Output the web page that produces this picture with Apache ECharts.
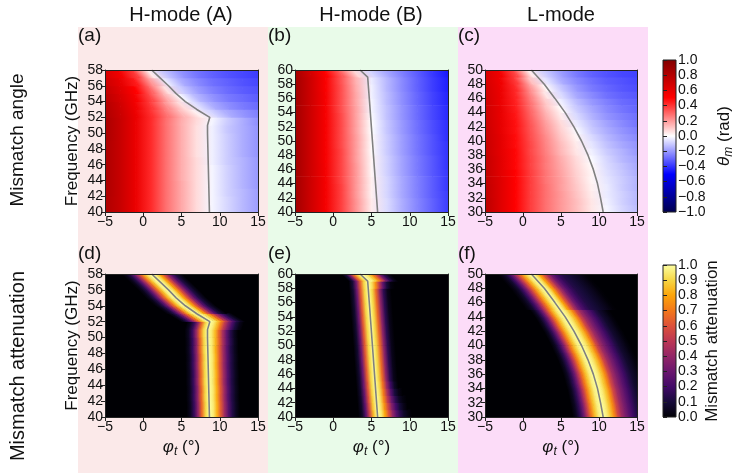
<!DOCTYPE html>
<html>
<head>
<meta charset="utf-8">
<script src="https://cdn.jsdelivr.net/npm/echarts@6.0.0/dist/echarts.min.js"></script>
<style>
  html, body { margin: 0; padding: 0; background: #fff; }
  #chart { width: 743px; height: 473px; }
</style>
</head>
<body>
<div id="chart"></div>
<script>
// 1.数据 -------------------------------------------------------------
// θm 每行的横向采样点 (°)
var phiSamples = [-5, -3, -1, 1, 3, 5, 7, 9, 11, 13, 15];
// 衰减每行: 第一个数是起点 (°), 后面按 0.5° 间隔取值
var attenStep = 0.5;

// 各行中心频率 (GHz)
var freqA = [40.5, 41.5, 42.5, 43.5, 44.5, 45.5, 46.5, 47.5, 48.5, 49.5, 50.5, 51.5, 52.5, 53.5, 54.5, 55.5, 56.5, 57.5];
var freqB = [40.5, 41.5, 42.5, 43.5, 44.5, 45.5, 46.5, 47.5, 48.5, 49.5, 50.5, 51.5, 52.5, 53.5, 54.5, 55.5, 56.5, 57.5, 58.5, 59.5];
var freqC = [30.5, 31.5, 32.5, 33.5, 34.5, 35.5, 36.5, 37.5, 38.5, 39.5, 40.5, 41.5, 42.5, 43.5, 44.5, 45.5, 46.5, 47.5, 48.5, 49.5];

// (a) H-mode (A) 失配角 θm (rad)
var thetaA = [
  [0.82, 0.72, 0.58, 0.42, 0.28, 0.17, 0.07, -0.02, -0.08, -0.14, -0.19],
  [0.82, 0.72, 0.58, 0.42, 0.28, 0.17, 0.07, -0.02, -0.08, -0.14, -0.19],
  [0.83, 0.72, 0.58, 0.42, 0.28, 0.17, 0.07, -0.02, -0.09, -0.14, -0.19],
  [0.83, 0.72, 0.58, 0.42, 0.28, 0.17, 0.07, -0.02, -0.09, -0.15, -0.2],
  [0.83, 0.72, 0.58, 0.42, 0.28, 0.16, 0.07, -0.02, -0.09, -0.15, -0.2],
  [0.83, 0.72, 0.58, 0.42, 0.28, 0.16, 0.07, -0.02, -0.09, -0.15, -0.2],
  [0.83, 0.72, 0.58, 0.42, 0.28, 0.16, 0.07, -0.03, -0.1, -0.15, -0.2],
  [0.83, 0.72, 0.58, 0.42, 0.28, 0.16, 0.06, -0.03, -0.1, -0.16, -0.21],
  [0.83, 0.72, 0.58, 0.42, 0.28, 0.16, 0.06, -0.03, -0.1, -0.16, -0.21],
  [0.84, 0.72, 0.58, 0.42, 0.28, 0.16, 0.06, -0.03, -0.1, -0.16, -0.21],
  [0.84, 0.72, 0.58, 0.42, 0.28, 0.16, 0.06, -0.03, -0.11, -0.16, -0.21],
  [0.84, 0.72, 0.58, 0.42, 0.28, 0.16, 0.07, -0.02, -0.1, -0.16, -0.22],
  [0.82, 0.71, 0.57, 0.41, 0.27, 0.14, 0.03, -0.08, -0.16, -0.21, -0.25],
  [0.8, 0.69, 0.55, 0.39, 0.22, 0.07, -0.06, -0.16, -0.22, -0.26, -0.29],
  [0.77, 0.66, 0.53, 0.36, 0.16, -0.01, -0.14, -0.21, -0.26, -0.29, -0.32],
  [0.74, 0.63, 0.5, 0.3, 0.06, -0.1, -0.19, -0.25, -0.29, -0.32, -0.34],
  [0.7, 0.6, 0.45, 0.2, -0.04, -0.16, -0.23, -0.28, -0.31, -0.34, -0.36],
  [0.66, 0.55, 0.38, 0.04, -0.12, -0.21, -0.27, -0.31, -0.34, -0.36, -0.38]
];

// (b) H-mode (B) 失配角 θm (rad)
var thetaB = [
  [0.87, 0.7, 0.54, 0.38, 0.21, 0.04, -0.07, -0.16, -0.24, -0.31, -0.38],
  [0.87, 0.7, 0.54, 0.38, 0.21, 0.04, -0.07, -0.16, -0.24, -0.31, -0.38],
  [0.87, 0.7, 0.54, 0.38, 0.2, 0.03, -0.08, -0.17, -0.25, -0.32, -0.38],
  [0.87, 0.7, 0.54, 0.38, 0.2, 0.03, -0.08, -0.17, -0.25, -0.32, -0.39],
  [0.87, 0.7, 0.54, 0.37, 0.2, 0.03, -0.08, -0.17, -0.25, -0.32, -0.39],
  [0.87, 0.7, 0.54, 0.37, 0.2, 0.02, -0.09, -0.18, -0.26, -0.33, -0.39],
  [0.87, 0.7, 0.54, 0.37, 0.2, 0.02, -0.09, -0.18, -0.26, -0.33, -0.4],
  [0.87, 0.7, 0.53, 0.37, 0.19, 0.02, -0.09, -0.18, -0.26, -0.33, -0.4],
  [0.87, 0.7, 0.53, 0.37, 0.19, 0.01, -0.1, -0.19, -0.27, -0.34, -0.4],
  [0.87, 0.7, 0.53, 0.36, 0.19, 0.01, -0.1, -0.19, -0.27, -0.34, -0.4],
  [0.87, 0.7, 0.53, 0.36, 0.19, 0.01, -0.1, -0.19, -0.27, -0.34, -0.41],
  [0.87, 0.7, 0.53, 0.36, 0.18, 0.0, -0.11, -0.2, -0.28, -0.35, -0.41],
  [0.87, 0.7, 0.53, 0.36, 0.18, 0.0, -0.11, -0.2, -0.28, -0.35, -0.41],
  [0.87, 0.7, 0.53, 0.36, 0.18, -0.01, -0.12, -0.21, -0.29, -0.36, -0.42],
  [0.87, 0.7, 0.53, 0.35, 0.18, -0.02, -0.12, -0.21, -0.29, -0.36, -0.42],
  [0.87, 0.7, 0.53, 0.35, 0.17, -0.02, -0.13, -0.22, -0.3, -0.37, -0.43],
  [0.87, 0.7, 0.53, 0.35, 0.17, -0.03, -0.13, -0.22, -0.3, -0.37, -0.43],
  [0.87, 0.7, 0.52, 0.35, 0.16, -0.03, -0.14, -0.23, -0.31, -0.38, -0.44],
  [0.87, 0.7, 0.52, 0.34, 0.15, -0.04, -0.14, -0.23, -0.31, -0.38, -0.44],
  [0.85, 0.68, 0.5, 0.32, 0.08, -0.08, -0.17, -0.25, -0.32, -0.39, -0.45]
];

// (c) L-mode 失配角 θm (rad)
var thetaC = [
  [0.77, 0.63, 0.5, 0.38, 0.28, 0.2, 0.13, 0.05, -0.02, -0.08, -0.13],
  [0.77, 0.63, 0.5, 0.38, 0.28, 0.2, 0.13, 0.05, -0.03, -0.09, -0.14],
  [0.76, 0.63, 0.5, 0.38, 0.28, 0.2, 0.12, 0.04, -0.04, -0.09, -0.14],
  [0.76, 0.63, 0.5, 0.38, 0.28, 0.19, 0.11, 0.03, -0.04, -0.1, -0.15],
  [0.75, 0.63, 0.5, 0.38, 0.27, 0.19, 0.1, 0.02, -0.05, -0.1, -0.15],
  [0.75, 0.62, 0.5, 0.38, 0.27, 0.18, 0.09, 0.02, -0.06, -0.11, -0.16],
  [0.74, 0.62, 0.49, 0.37, 0.26, 0.17, 0.08, 0.01, -0.07, -0.12, -0.17],
  [0.74, 0.62, 0.49, 0.37, 0.26, 0.16, 0.07, -0.01, -0.08, -0.14, -0.18],
  [0.73, 0.61, 0.49, 0.36, 0.25, 0.14, 0.05, -0.03, -0.1, -0.15, -0.2],
  [0.73, 0.61, 0.48, 0.36, 0.24, 0.13, 0.04, -0.05, -0.12, -0.17, -0.21],
  [0.72, 0.61, 0.48, 0.35, 0.23, 0.11, 0.02, -0.07, -0.14, -0.19, -0.23],
  [0.72, 0.6, 0.47, 0.34, 0.21, 0.09, -0.01, -0.1, -0.16, -0.21, -0.25],
  [0.71, 0.6, 0.47, 0.33, 0.19, 0.07, -0.04, -0.12, -0.18, -0.23, -0.27],
  [0.71, 0.59, 0.46, 0.31, 0.16, 0.04, -0.07, -0.15, -0.21, -0.25, -0.28],
  [0.7, 0.59, 0.45, 0.29, 0.13, 0.01, -0.1, -0.17, -0.23, -0.27, -0.3],
  [0.7, 0.58, 0.44, 0.27, 0.1, -0.03, -0.13, -0.2, -0.25, -0.29, -0.31],
  [0.69, 0.58, 0.43, 0.24, 0.05, -0.07, -0.17, -0.23, -0.28, -0.31, -0.33],
  [0.68, 0.57, 0.42, 0.2, 0.01, -0.11, -0.2, -0.26, -0.3, -0.33, -0.35],
  [0.67, 0.56, 0.39, 0.12, -0.05, -0.16, -0.23, -0.28, -0.32, -0.34, -0.36],
  [0.66, 0.55, 0.36, 0.04, -0.1, -0.19, -0.26, -0.31, -0.34, -0.36, -0.37]
];

// (d) H-mode (A) 失配衰减
var attenA = [
  [5.65, 0, 0.05, 0.17, 0.38, 0.66, 0.9, 1.0, 0.95, 0.82, 0.62, 0.42, 0.25, 0.13, 0.05, 0],
  [5.65, 0, 0.05, 0.17, 0.38, 0.66, 0.9, 1.0, 0.95, 0.82, 0.62, 0.42, 0.25, 0.13, 0.05, 0],
  [5.6, 0, 0.05, 0.17, 0.38, 0.66, 0.9, 1.0, 0.95, 0.82, 0.62, 0.42, 0.25, 0.13, 0.05, 0],
  [5.6, 0, 0.05, 0.17, 0.38, 0.66, 0.9, 1.0, 0.95, 0.82, 0.62, 0.42, 0.25, 0.13, 0.05, 0],
  [5.55, 0, 0.05, 0.17, 0.38, 0.66, 0.9, 1.0, 0.95, 0.82, 0.62, 0.42, 0.25, 0.13, 0.05, 0],
  [5.55, 0, 0.05, 0.17, 0.38, 0.66, 0.9, 1.0, 0.95, 0.82, 0.62, 0.42, 0.25, 0.13, 0.05, 0],
  [5.5, 0, 0.05, 0.17, 0.38, 0.66, 0.9, 1.0, 0.95, 0.82, 0.62, 0.42, 0.25, 0.13, 0.05, 0],
  [5.5, 0, 0.05, 0.17, 0.38, 0.66, 0.9, 1.0, 0.95, 0.82, 0.62, 0.42, 0.25, 0.13, 0.05, 0],
  [5.45, 0, 0.05, 0.17, 0.38, 0.66, 0.9, 1.0, 0.95, 0.82, 0.63, 0.43, 0.26, 0.13, 0.05, 0],
  [5.45, 0, 0.05, 0.17, 0.38, 0.66, 0.9, 1.0, 0.95, 0.83, 0.64, 0.44, 0.27, 0.14, 0.05, 0],
  [5.4, 0, 0.05, 0.17, 0.39, 0.67, 0.9, 1.0, 0.95, 0.84, 0.65, 0.45, 0.28, 0.14, 0.05, 0],
  [5.55, 0, 0.05, 0.16, 0.37, 0.65, 0.9, 1.0, 0.96, 0.86, 0.7, 0.52, 0.36, 0.22, 0.11, 0.04, 0],
  [4.0, 0, 0.05, 0.15, 0.3, 0.5, 0.7, 0.88, 0.98, 1.0, 0.95, 0.85, 0.7, 0.52, 0.36, 0.22, 0.12, 0.05, 0],
  [2.25, 0, 0.04, 0.12, 0.26, 0.45, 0.66, 0.85, 0.97, 1.0, 0.94, 0.8, 0.6, 0.4, 0.24, 0.12, 0.05, 0],
  [0.9, 0, 0.04, 0.12, 0.26, 0.45, 0.66, 0.85, 0.97, 1.0, 0.94, 0.8, 0.6, 0.4, 0.24, 0.12, 0.05, 0],
  [-0.2, 0, 0.04, 0.12, 0.26, 0.45, 0.66, 0.85, 0.97, 1.0, 0.94, 0.8, 0.6, 0.4, 0.24, 0.12, 0.05, 0],
  [-1.25, 0, 0.04, 0.12, 0.26, 0.45, 0.66, 0.85, 0.97, 1.0, 0.94, 0.8, 0.6, 0.4, 0.24, 0.12, 0.05, 0],
  [-2.35, 0, 0.04, 0.12, 0.26, 0.45, 0.66, 0.85, 0.97, 1.0, 0.94, 0.8, 0.6, 0.4, 0.24, 0.12, 0.05, 0]
];

// (e) H-mode (B) 失配衰减
var attenB = [
  [3.26, 0, 0.06, 0.25, 0.55, 0.85, 1.0, 0.95, 0.8, 0.6, 0.4, 0.25, 0.14, 0.07, 0.03, 0],
  [3.19, 0, 0.07, 0.27, 0.57, 0.87, 1.0, 0.94, 0.76, 0.55, 0.35, 0.2, 0.1, 0.04, 0],
  [3.12, 0, 0.07, 0.28, 0.59, 0.88, 1.0, 0.93, 0.73, 0.5, 0.3, 0.15, 0.06, 0.02, 0],
  [3.06, 0, 0.08, 0.29, 0.6, 0.89, 1.0, 0.92, 0.7, 0.45, 0.24, 0.1, 0.03, 0],
  [2.99, 0, 0.08, 0.3, 0.61, 0.9, 1.0, 0.91, 0.68, 0.41, 0.19, 0.06, 0],
  [2.92, 0, 0.08, 0.3, 0.62, 0.9, 1.0, 0.9, 0.66, 0.38, 0.15, 0.04, 0],
  [2.85, 0, 0.08, 0.3, 0.62, 0.9, 1.0, 0.9, 0.66, 0.38, 0.15, 0.04, 0],
  [2.78, 0, 0.08, 0.3, 0.62, 0.9, 1.0, 0.9, 0.66, 0.38, 0.15, 0.04, 0],
  [2.71, 0, 0.08, 0.3, 0.62, 0.9, 1.0, 0.9, 0.66, 0.38, 0.15, 0.04, 0],
  [2.65, 0, 0.08, 0.3, 0.62, 0.9, 1.0, 0.9, 0.66, 0.38, 0.15, 0.04, 0],
  [2.58, 0, 0.08, 0.3, 0.62, 0.9, 1.0, 0.9, 0.66, 0.38, 0.15, 0.04, 0],
  [2.51, 0, 0.08, 0.3, 0.62, 0.9, 1.0, 0.9, 0.66, 0.38, 0.15, 0.04, 0],
  [2.44, 0, 0.08, 0.3, 0.62, 0.9, 1.0, 0.9, 0.66, 0.38, 0.15, 0.04, 0],
  [2.37, 0, 0.08, 0.3, 0.62, 0.9, 1.0, 0.9, 0.66, 0.38, 0.15, 0.04, 0],
  [2.3, 0, 0.08, 0.3, 0.62, 0.9, 1.0, 0.9, 0.66, 0.38, 0.15, 0.04, 0],
  [2.24, 0, 0.08, 0.3, 0.62, 0.9, 1.0, 0.9, 0.66, 0.38, 0.15, 0.04, 0],
  [2.17, 0, 0.08, 0.3, 0.62, 0.9, 1.0, 0.9, 0.66, 0.38, 0.15, 0.04, 0],
  [2.1, 0, 0.08, 0.3, 0.62, 0.9, 1.0, 0.9, 0.66, 0.38, 0.15, 0.04, 0],
  [2.03, 0, 0.09, 0.32, 0.63, 0.9, 1.0, 0.93, 0.75, 0.5, 0.26, 0.1, 0.02, 0],
  [1.5, 0, 0.1, 0.35, 0.65, 0.88, 1.0, 0.98, 0.9, 0.75, 0.55, 0.32, 0.15, 0.05, 0]
];

// (f) L-mode 失配衰减
var attenC = [
  [6.45, 0, 0.05, 0.15, 0.3, 0.5, 0.7, 0.86, 0.96, 1.0, 0.96, 0.87, 0.74, 0.56, 0.43, 0.34, 0.26, 0.19, 0.13, 0.08, 0.05, 0.02, 0],
  [6.3, 0, 0.05, 0.15, 0.3, 0.5, 0.7, 0.86, 0.96, 1.0, 0.96, 0.87, 0.74, 0.56, 0.43, 0.34, 0.26, 0.19, 0.13, 0.08, 0.05, 0.02, 0],
  [6.1, 0, 0.05, 0.15, 0.3, 0.5, 0.7, 0.86, 0.96, 1.0, 0.96, 0.87, 0.74, 0.56, 0.43, 0.34, 0.26, 0.19, 0.13, 0.08, 0.05, 0.02, 0],
  [5.9, 0, 0.05, 0.15, 0.3, 0.5, 0.7, 0.86, 0.96, 1.0, 0.96, 0.87, 0.74, 0.56, 0.43, 0.34, 0.26, 0.19, 0.13, 0.08, 0.05, 0.02, 0],
  [5.65, 0, 0.05, 0.15, 0.3, 0.5, 0.7, 0.86, 0.96, 1.0, 0.96, 0.87, 0.74, 0.56, 0.43, 0.34, 0.26, 0.19, 0.13, 0.08, 0.05, 0.02, 0],
  [5.4, 0, 0.05, 0.15, 0.3, 0.5, 0.7, 0.86, 0.96, 1.0, 0.96, 0.87, 0.74, 0.56, 0.43, 0.34, 0.26, 0.19, 0.13, 0.08, 0.05, 0.02, 0],
  [5.1, 0, 0.05, 0.15, 0.3, 0.5, 0.7, 0.86, 0.96, 1.0, 0.96, 0.87, 0.74, 0.56, 0.43, 0.34, 0.26, 0.19, 0.13, 0.08, 0.05, 0.02, 0],
  [4.75, 0, 0.05, 0.15, 0.3, 0.5, 0.7, 0.86, 0.96, 1.0, 0.96, 0.87, 0.74, 0.56, 0.43, 0.34, 0.26, 0.19, 0.13, 0.08, 0.05, 0.02, 0],
  [4.35, 0, 0.05, 0.15, 0.3, 0.5, 0.7, 0.86, 0.96, 1.0, 0.96, 0.87, 0.74, 0.56, 0.43, 0.34, 0.26, 0.19, 0.13, 0.08, 0.05, 0.02, 0],
  [3.9, 0, 0.05, 0.15, 0.3, 0.5, 0.7, 0.86, 0.96, 1.0, 0.96, 0.87, 0.74, 0.56, 0.43, 0.34, 0.26, 0.19, 0.13, 0.08, 0.05, 0.02, 0],
  [3.45, 0, 0.05, 0.15, 0.3, 0.5, 0.7, 0.86, 0.96, 1.0, 0.96, 0.87, 0.74, 0.56, 0.43, 0.34, 0.26, 0.19, 0.13, 0.08, 0.05, 0.02, 0],
  [2.95, 0, 0.05, 0.15, 0.3, 0.5, 0.7, 0.86, 0.96, 1.0, 0.96, 0.87, 0.74, 0.56, 0.43, 0.34, 0.26, 0.19, 0.13, 0.08, 0.05, 0.02, 0],
  [2.4, 0, 0.05, 0.15, 0.3, 0.5, 0.7, 0.86, 0.96, 1.0, 0.96, 0.87, 0.74, 0.56, 0.43, 0.34, 0.26, 0.19, 0.13, 0.08, 0.05, 0.02, 0],
  [1.85, 0, 0.05, 0.15, 0.3, 0.5, 0.7, 0.86, 0.96, 1.0, 0.96, 0.87, 0.74, 0.56, 0.43, 0.34, 0.26, 0.19, 0.13, 0.08, 0.05, 0.02, 0],
  [1.2, 0, 0.05, 0.15, 0.3, 0.5, 0.7, 0.86, 0.96, 1.0, 0.96, 0.87, 0.74, 0.56, 0.43, 0.34, 0.26, 0.19, 0.13, 0.08, 0.05, 0.02, 0],
  [0.05, 0, 0.03, 0.08, 0.18, 0.32, 0.5, 0.68, 0.84, 0.95, 1.0, 0.94, 0.8, 0.62, 0.45, 0.32, 0.23, 0.17, 0.13, 0.11, 0.09, 0.07, 0.05, 0.03, 0.01, 0],
  [-0.65, 0, 0.03, 0.08, 0.18, 0.32, 0.5, 0.68, 0.84, 0.95, 1.0, 0.94, 0.8, 0.62, 0.45, 0.32, 0.23, 0.17, 0.13, 0.11, 0.09, 0.07, 0.05, 0.03, 0.01, 0],
  [-1.35, 0, 0.03, 0.08, 0.18, 0.32, 0.5, 0.68, 0.84, 0.95, 1.0, 0.94, 0.8, 0.62, 0.45, 0.32, 0.23, 0.17, 0.13, 0.11, 0.09, 0.07, 0.05, 0.03, 0.01, 0],
  [-2.15, 0, 0.03, 0.08, 0.18, 0.32, 0.5, 0.68, 0.84, 0.95, 1.0, 0.94, 0.8, 0.62, 0.45, 0.32, 0.23, 0.17, 0.13, 0.11, 0.09, 0.07, 0.05, 0.03, 0.01, 0],
  [-3.0, 0, 0.03, 0.08, 0.18, 0.32, 0.5, 0.68, 0.84, 0.95, 1.0, 0.94, 0.8, 0.62, 0.45, 0.32, 0.23, 0.17, 0.13, 0.11, 0.09, 0.07, 0.05, 0.03, 0.01, 0]
];

// θm = 0 的等值线 (灰线), 频率与角度
var ridgeFreqA = [40, 42, 44, 46, 48, 50, 51, 52, 53, 54, 55, 56, 57, 58];
var ridgePhiA = [8.65, 8.6, 8.55, 8.5, 8.45, 8.4, 8.4, 8.7, 7.0, 5.5, 4.3, 3.3, 2.2, 1.1];
var ridgeFreqB = [40, 45, 50, 55, 59, 60];
var ridgePhiB = [5.8, 5.46, 5.12, 4.78, 4.5, 3.5];
var ridgeFreqC = [30, 32, 34, 36, 38, 40, 42, 44, 46, 48, 50];
var ridgePhiC = [10.55, 10.2, 9.8, 9.25, 8.55, 7.7, 6.7, 5.55, 4.2, 2.8, 1.1];

// 2.色标 -------------------------------------------------------------
var FONT = 'Liberation Sans, Arial, sans-serif';
var seismicStops = [[-1, 0, 0, 77], [-0.5, 0, 0, 255], [0, 255, 255, 255], [0.5, 255, 0, 0], [1, 128, 0, 0]];
var infernoStops = [
  [0.0, 0, 0, 4], [0.1, 22, 11, 57], [0.2, 66, 10, 104], [0.3, 106, 23, 110], [0.4, 147, 38, 103],
  [0.5, 188, 55, 84], [0.6, 221, 81, 58], [0.7, 243, 120, 25], [0.8, 252, 165, 10], [0.9, 246, 215, 70], [1.0, 252, 255, 164]
];
function cmap(stops, v) {
  if (v <= stops[0][0]) v = stops[0][0];
  if (v >= stops[stops.length - 1][0]) v = stops[stops.length - 1][0];
  for (var i = 0; i < stops.length - 1; i++) {
    var a = stops[i], b = stops[i + 1];
    if (v <= b[0]) {
      var t = (v - a[0]) / (b[0] - a[0]);
      return 'rgb(' + Math.round(a[1] + (b[1] - a[1]) * t) + ',' + Math.round(a[2] + (b[2] - a[2]) * t) + ',' + Math.round(a[3] + (b[3] - a[3]) * t) + ')';
    }
  }
}
function barGradient(stops) {//色条, 上端为最大值
  var lo = stops[0][0], hi = stops[stops.length - 1][0];
  var cs = stops.map(function (s) {
    return { offset: (hi - s[0]) / (hi - lo), color: 'rgb(' + s[1] + ',' + s[2] + ',' + s[3] + ')' };
  }).reverse();
  return new echarts.graphic.LinearGradient(0, 0, 0, 1, cs);
}

// 3.把每行拆成小段 [x0, x1, 频率, 值0, 值1, 左沿倾斜, 右沿倾斜] -------
// 倾斜量取自等值线在该行上下沿的角度差, 让色带沿等值线走;
// 失配角面板里离等值线越远越接近竖直
function ridgeAt(rf, rp, f) {
  if (f <= rf[0]) return rp[0];
  for (var k = 0; k < rf.length - 1; k++) {
    if (f <= rf[k + 1]) return rp[k] + (rp[k + 1] - rp[k]) * (f - rf[k]) / (rf[k + 1] - rf[k]);
  }
  return rp[rp.length - 1];
}
function edgeSkew(rf, rp, f, x, fade) {
  var sk = ridgeAt(rf, rp, f + 0.5) - ridgeAt(rf, rp, f - 0.5);
  if (!fade) return sk;
  var d = (x - ridgeAt(rf, rp, f)) / 4;
  return sk / (1 + d * d);
}

function thetaCells(freqs, rows, rf, rp) {
  var out = [];
  for (var r = 0; r < rows.length; r++) {
    var f = freqs[r];
    for (var i = 0; i < phiSamples.length - 1; i++) {
      var xa = phiSamples[i], xb = phiSamples[i + 1];
      out.push([xa, xb, f, rows[r][i], rows[r][i + 1], edgeSkew(rf, rp, f, xa, true), edgeSkew(rf, rp, f, xb, true)]);
    }
  }
  return out;
}
function attenCells(freqs, rows, rf, rp) {
  var out = [];
  for (var r = 0; r < rows.length; r++) {
    var x0 = rows[r][0], f = freqs[r];
    var sk = edgeSkew(rf, rp, f, 0, false);
    for (var i = 1; i < rows[r].length - 1; i++) {
      out.push([x0 + (i - 1) * attenStep, x0 + i * attenStep, f, rows[r][i], rows[r][i + 1], sk, sk]);
    }
  }
  return out;
}
function cellRenderer(stops) {
  return function (params, api) {
    var xa = api.value(0), xb = api.value(1), f = api.value(2);
    var ka = api.value(5), kb = api.value(6);
    // 面板两端的段向外延伸, 由坐标系裁掉
    var ea = xa <= -5 ? 4 : 0, eb = xb >= 15 ? 4 : 0;
    var bl = api.coord([xa - ea - ka / 2, f - 0.5]), br = api.coord([xb + eb - kb / 2, f - 0.5]);
    var tr = api.coord([xb + eb + kb / 2, f + 0.5]), tl = api.coord([xa - ea + ka / 2, f + 0.5]);
    var c0 = api.coord([xa, f]), c1 = api.coord([xb, f]);
    var pa = api.coord([xa + ka / 2, f + 0.5]), pb = api.coord([xa - ka / 2, f - 0.5]);
    var qa = api.coord([xb + kb / 2, f + 0.5]), qb = api.coord([xb - kb / 2, f - 0.5]);
    var h = pb[1] - pa[1];
    var q = ((pa[0] - pb[0]) + (qa[0] - qb[0])) / 2 / h;
    var L = c1[0] - c0[0];
    var gx = L / (1 + q * q), gy = gx * q;
    var e = 0.35;
    return {
      type: 'polygon',
      shape: { points: [[bl[0] - e, bl[1] + e], [br[0] + e, br[1] + e], [tr[0] + e, tr[1] - e], [tl[0] - e, tl[1] - e]] },
      style: {
        fill: new echarts.graphic.LinearGradient(c0[0], c0[1], c0[0] + gx, c0[1] + gy, [
          { offset: 0, color: cmap(stops, api.value(3)) },
          { offset: 1, color: cmap(stops, api.value(4)) }
        ], true)
      }
    };
  };
}

// 4.面板布局 ---------------------------------------------------------
var panels = [
  { box: { left: 105, top: 70, width: 153, height: 142 }, fMin: 40, fMax: 58, cells: thetaCells(freqA, thetaA, ridgeFreqA, ridgePhiA), stops: seismicStops, rf: ridgeFreqA, rp: ridgePhiA, yName: true, xName: false },
  { box: { left: 295, top: 70, width: 153, height: 142 }, fMin: 40, fMax: 60, cells: thetaCells(freqB, thetaB, ridgeFreqB, ridgePhiB), stops: seismicStops, rf: ridgeFreqB, rp: ridgePhiB, yName: false, xName: false },
  { box: { left: 485, top: 70, width: 152, height: 142 }, fMin: 30, fMax: 50, cells: thetaCells(freqC, thetaC, ridgeFreqC, ridgePhiC), stops: seismicStops, rf: ridgeFreqC, rp: ridgePhiC, yName: false, xName: false },
  { box: { left: 105, top: 274, width: 153, height: 143 }, fMin: 40, fMax: 58, cells: attenCells(freqA, attenA, ridgeFreqA, ridgePhiA), stops: infernoStops, rf: ridgeFreqA, rp: ridgePhiA, yName: true, xName: true },
  { box: { left: 295, top: 274, width: 153, height: 143 }, fMin: 40, fMax: 60, cells: attenCells(freqB, attenB, ridgeFreqB, ridgePhiB), stops: infernoStops, rf: ridgeFreqB, rp: ridgePhiB, yName: false, xName: true },
  { box: { left: 485, top: 274, width: 152, height: 143 }, fMin: 30, fMax: 50, cells: attenCells(freqC, attenC, ridgeFreqC, ridgePhiC), stops: infernoStops, rf: ridgeFreqC, rp: ridgePhiC, yName: false, xName: true }
];

function minus(v) { return String(v).replace('-', '\u2212'); }
var spine = { color: '#222', width: 1 };
var labelStyle = { color: '#111', fontSize: 14, fontFamily: FONT };
var subRich = {
  i: { fontStyle: 'italic', fontSize: 17, fontFamily: FONT, color: '#111' },
  s: { fontStyle: 'italic', fontSize: 12, fontFamily: FONT, color: '#111', padding: [9, 0, 0, 0] },
  n: { fontSize: 17, fontFamily: FONT, color: '#111' }
};

var grids = [], xAxes = [], yAxes = [], series = [];
panels.forEach(function (p, i) {
  grids.push(Object.assign({ outerBoundsMode: 'none', containLabel: false, show: true, borderWidth: 0,
    backgroundColor: cmap(p.stops, 0) }, p.box));
  var xa = {
    type: 'value', gridIndex: i, min: -5, max: 15, interval: 5, z: 5,
    axisLine: { show: true, onZero: false, lineStyle: spine },
    axisTick: { show: true, length: 4, lineStyle: spine },
    axisLabel: Object.assign({ margin: 3, formatter: minus }, labelStyle),
    splitLine: { show: false }
  };
  if (p.xName) {
    xa.name = '{i|φ}{s|t}{n| (°)}';
    xa.nameLocation = 'middle';
    xa.nameGap = 20;
    xa.nameTextStyle = { rich: subRich };
  }
  var ya = {
    type: 'value', gridIndex: i, min: p.fMin, max: p.fMax, interval: 2, z: 5,
    axisLine: { show: true, onZero: false, lineStyle: spine },
    axisTick: { show: true, length: 4, lineStyle: spine },
    axisLabel: Object.assign({ margin: 2 }, labelStyle),
    splitLine: { show: false }
  };
  if (p.yName) {
    ya.name = 'Frequency (GHz)';
    ya.nameLocation = 'middle';
    ya.nameGap = 24;
    ya.nameRotate = 90;
    ya.nameTextStyle = { color: '#111', fontSize: 17, fontFamily: FONT };
  }
  xAxes.push(xa);
  yAxes.push(ya);
  // 上边框与右边框
  xAxes.push({ type: 'value', gridIndex: i, position: 'top', min: -5, max: 15, z: 5,
    axisLine: { show: true, onZero: false, lineStyle: spine }, axisTick: { show: false }, axisLabel: { show: false }, splitLine: { show: false } });
  yAxes.push({ type: 'value', gridIndex: i, position: 'right', min: p.fMin, max: p.fMax, z: 5,
    axisLine: { show: true, onZero: false, lineStyle: spine }, axisTick: { show: false }, axisLabel: { show: false }, splitLine: { show: false } });

  series.push({
    type: 'custom', xAxisIndex: 2 * i, yAxisIndex: 2 * i, silent: true, clip: true,
    renderItem: cellRenderer(p.stops), encode: { x: 0, y: 2 }, data: p.cells, z: 1
  });
  series.push({
    type: 'line', xAxisIndex: 2 * i, yAxisIndex: 2 * i, silent: true, showSymbol: false, z: 3,
    lineStyle: { color: '#808080', width: 1.6 },
    data: p.rf.map(function (f, k) { return [p.rp[k], f]; })
  });
});

// 色条
function colorbar(idx, box, min, max, interval, stops, name, gap, rich) {
  grids.push(Object.assign({ outerBoundsMode: 'none', containLabel: false, show: true,
    borderColor: '#222', borderWidth: 1, backgroundColor: barGradient(stops) }, box));
  xAxes.push({ type: 'value', gridIndex: idx, min: 0, max: 1, show: false });
  var ya = {
    type: 'value', gridIndex: idx, position: 'right', min: min, max: max, interval: interval, z: 5,
    axisLine: { show: false },
    axisTick: { show: true, length: 4, lineStyle: spine },
    axisLabel: Object.assign({ margin: 2, formatter: function (v) { return minus((Math.round(v * 10) / 10).toFixed(1)); } }, labelStyle),
    splitLine: { show: false },
    name: name, nameLocation: 'middle', nameGap: gap, nameRotate: 90,
    nameTextStyle: { color: '#111', fontSize: 17, fontFamily: FONT, rich: rich }
  };
  yAxes.push(ya);
}
colorbar(6, { left: 663, top: 60, width: 13, height: 152 }, -1, 1, 0.2, seismicStops, '{i|θ}{s|m}{n| (rad)}', 38, subRich);
colorbar(7, { left: 663, top: 265, width: 13, height: 152 }, 0, 1, 0.1, infernoStops, 'Mismatch attenuation', 28, null);

// 文字与背景
function txt(x, y, s, size, rot) {
  return { type: 'text', x: x, y: y, rotation: rot || 0, z: 10,
    style: { text: s, font: size + 'px ' + FONT, fill: '#111', align: 'center', verticalAlign: 'middle',
      textAlign: 'center', textVerticalAlign: 'middle' } };
}
function letter(x, y, s) {
  return { type: 'text', x: x, y: y, z: 10,
    style: { text: s, font: '19px ' + FONT, fill: '#111', align: 'left', verticalAlign: 'middle',
      textAlign: 'left', textVerticalAlign: 'middle' } };
}
var graphics = [
  { type: 'rect', z: -100, shape: { x: 78, y: 27, width: 190, height: 446 }, style: { fill: '#fbe9e9' } },
  { type: 'rect', z: -100, shape: { x: 268, y: 27, width: 190, height: 446 }, style: { fill: '#e9fbe9' } },
  { type: 'rect', z: -100, shape: { x: 458, y: 27, width: 190, height: 446 }, style: { fill: '#fcdcf8' } },
  txt(181, 15, 'H-mode (A)', 20), txt(371, 15, 'H-mode (B)', 20), txt(561, 15, 'L-mode', 20),
  letter(78, 36, '(a)'), letter(268, 36, '(b)'), letter(458, 36, '(c)'),
  letter(78, 254, '(d)'), letter(268, 254, '(e)'), letter(458, 254, '(f)'),
  txt(18, 140, 'Mismatch angle', 19, Math.PI / 2),
  txt(18, 366, 'Mismatch attenuation', 20, Math.PI / 2)
];

var myChart = echarts.init(document.getElementById('chart'));
myChart.setOption({
  animation: false,
  backgroundColor: '#fff',
  grid: grids,
  xAxis: xAxes,
  yAxis: yAxes,
  series: series,
  graphic: { elements: graphics }
});
</script>
</body>
</html>
